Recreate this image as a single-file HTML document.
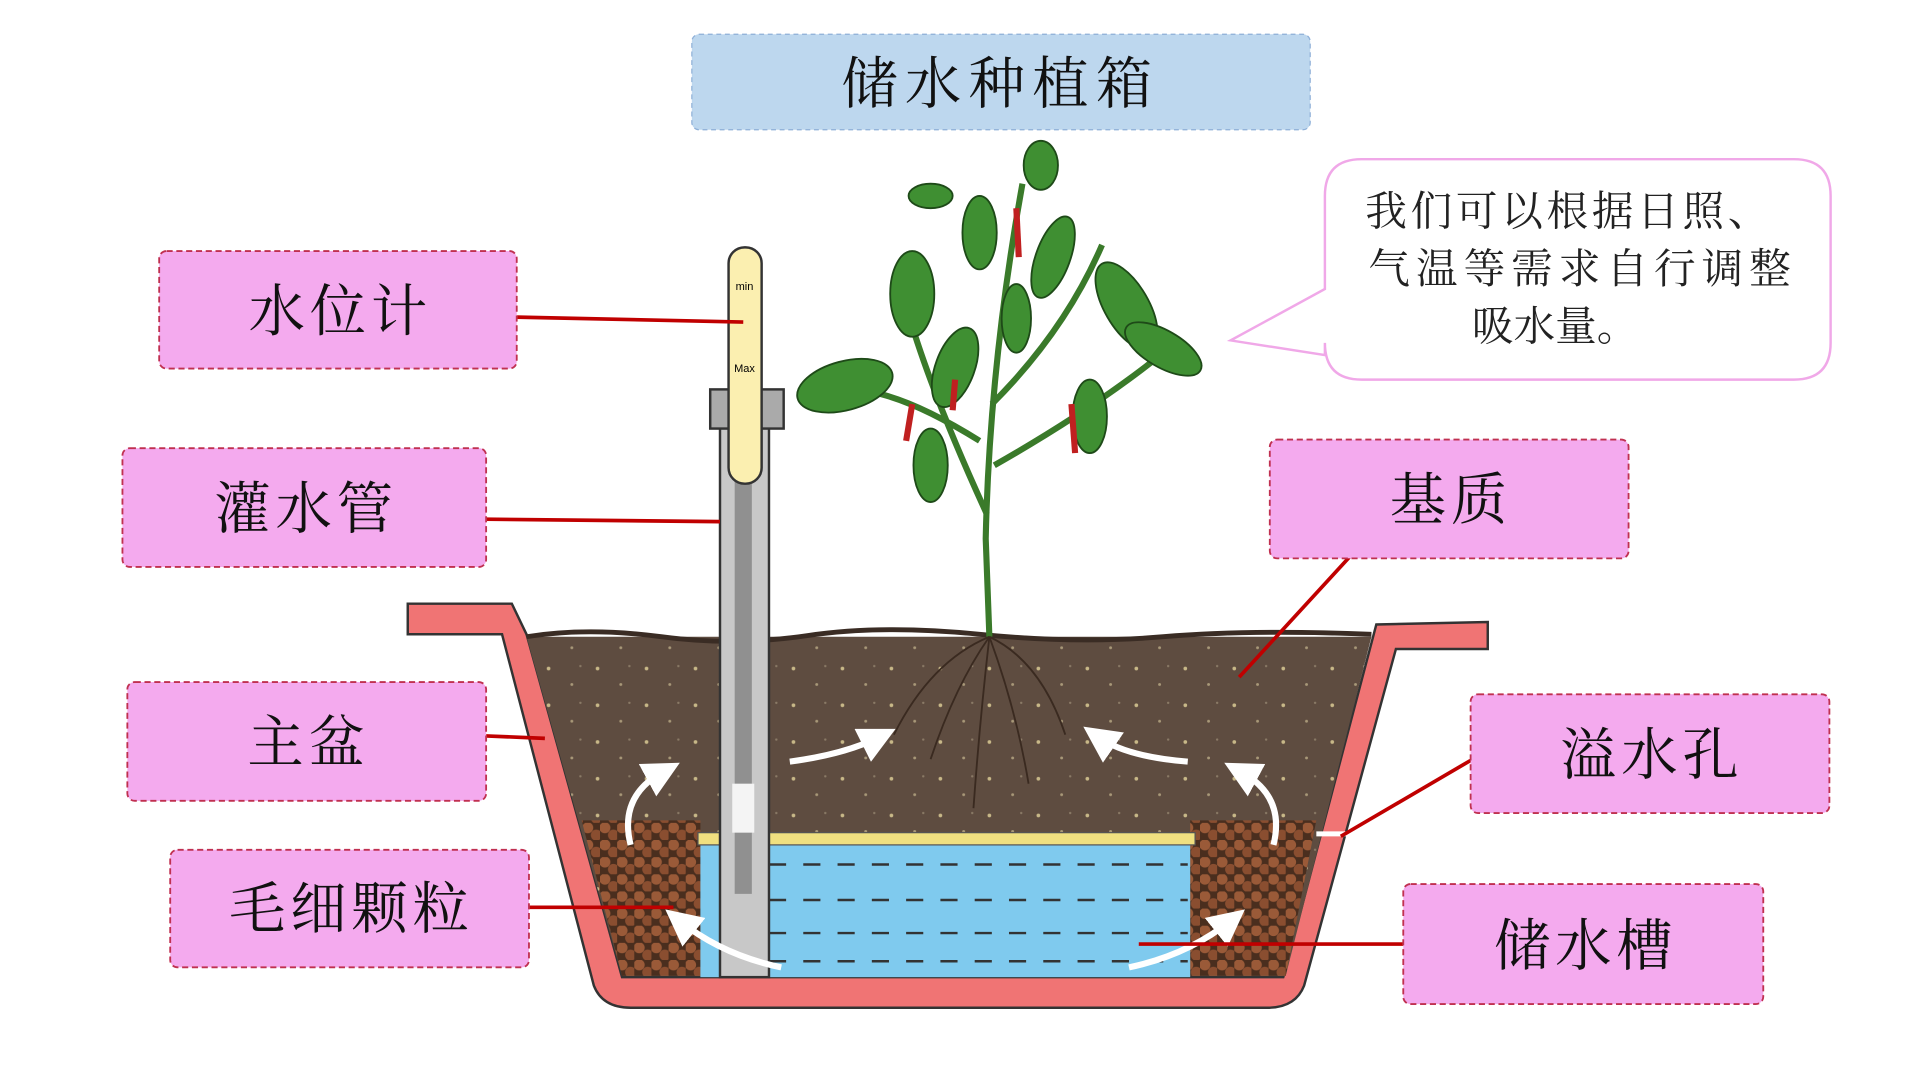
<!DOCTYPE html>
<html><head><meta charset="utf-8"><style>
html,body{margin:0;padding:0;background:#fff;width:1920px;height:1080px;overflow:hidden}
svg{display:block}
text{font-family:"Liberation Sans","Noto Serif CJK SC","Noto Sans CJK SC",serif}
</style></head><body>
<svg width="1920" height="1080" viewBox="0 0 1568 882" preserveAspectRatio="none" xmlns="http://www.w3.org/2000/svg">
<defs>
<pattern id="peb" width="14" height="14" patternUnits="userSpaceOnUse">
<rect width="14" height="14" fill="#4a2e1e"/>
<circle cx="4" cy="4" r="4.5" fill="#9a5a38"/><circle cx="11" cy="10" r="4.5" fill="#8a4e30"/>
</pattern>
<pattern id="dirt" width="40" height="30" patternUnits="userSpaceOnUse">
<rect width="40" height="30" fill="#5e4c40"/>
<circle cx="8" cy="6" r="1.5" fill="#c8b888"/><circle cx="27" cy="19" r="1.2" fill="#a89878"/><circle cx="34" cy="4" r="1" fill="#8a7a66"/>
</pattern>
<marker id="ah" markerWidth="6" markerHeight="6" refX="3" refY="3" orient="auto"><path d="M0,0 L6,3 L0,6 Z" fill="#fff"/></marker>
</defs>
<!-- title -->
<rect x="565" y="28" width="505" height="78" rx="6" fill="#bdd7ee" stroke="#8fb0d8" stroke-dasharray="4 3"/>
<text x="817" y="84" font-size="46" text-anchor="middle" letter-spacing="6" fill="#111">储水种植箱</text>
<!-- bubble -->
<path d="M1112,130 H1465 Q1495,130 1495,160 V280 Q1495,310 1465,310 H1112 Q1082,310 1082,280 V290 L1005,278 L1082,236 V160 Q1082,130 1112,130 Z" fill="#fff" stroke="#f0a8e8" stroke-width="2"/>
<g font-size="34" fill="#222" text-anchor="middle">
<text x="1280" y="184" textLength="330">我们可以根据日照、</text>
<text x="1290" y="231" textLength="345">气温等需求自行调整</text>
<text x="1270" y="278">吸水量。</text>
</g>
<!-- pot -->
<path d="M333,493 L418,493 L430,518 L508,798 L1048,798 L1124,510 L1215,508 L1215,530 L1140,530 L1065,805 Q1058,823 1035,823 L515,823 Q492,823 485,805 L410,518 L333,518 Z" fill="#f07474" stroke="#333" stroke-width="2"/>
<path d="M430,520 L1120,520 L1050,797 L508,797 Z" fill="url(#dirt)"/>
<path d="M430,520 Q480,512 540,520 T660,519 T800,518 T950,520 T1120,518" fill="none" stroke="#3a2c24" stroke-width="4"/>
<path d="M475,670 L572,670 L572,797 L508,797 Z" fill="url(#peb)"/>
<path d="M972,670 L1075,670 L1050,797 L972,797 Z" fill="url(#peb)"/>
<rect x="572" y="690" width="400" height="108" fill="#7fcaee"/>
<g stroke="#333" stroke-width="2" stroke-dasharray="14 14"><line x1="600" y1="706" x2="970" y2="706"/><line x1="600" y1="735" x2="970" y2="735"/><line x1="600" y1="762" x2="970" y2="762"/><line x1="600" y1="785" x2="970" y2="785"/></g>
<rect x="570" y="680" width="406" height="10" fill="#f0e080" stroke="#555"/>
<line x1="1075" y1="681" x2="1100" y2="681" stroke="#fff" stroke-width="4"/>
<!-- pipe -->
<rect x="588" y="330" width="40" height="468" fill="#c8c8c8" stroke="#333" stroke-width="2"/>
<rect x="600" y="330" width="14" height="400" fill="#909090"/>
<rect x="598" y="640" width="18" height="40" fill="#f4f4f4"/>
<rect x="580" y="318" width="60" height="32" fill="#aaa" stroke="#333" stroke-width="2"/>
<rect x="595" y="202" width="27" height="193" rx="13" fill="#fbefb0" stroke="#333" stroke-width="2"/>
<text x="608" y="237" font-size="9" text-anchor="middle">min</text>
<text x="608" y="304" font-size="9" text-anchor="middle">Max</text>
<!-- plant -->
<g stroke="#3a7a2a" stroke-width="5" fill="none"><path d="M808,520 L805,440 Q808,300 835,150"/><path d="M806,420 Q760,320 740,250"/><path d="M810,330 Q870,270 900,200"/><path d="M812,380 Q900,330 960,280"/><path d="M800,360 Q720,310 680,320"/></g>
<g fill="#3f8f32" stroke="#1e4a18" stroke-width="1.5">
<ellipse cx="690" cy="315" rx="40" ry="20" transform="rotate(-15 690 315)"/>
<ellipse cx="745" cy="240" rx="18" ry="35"/><ellipse cx="780" cy="300" rx="16" ry="34" transform="rotate(20 780 300)"/>
<ellipse cx="760" cy="380" rx="14" ry="30"/><ellipse cx="920" cy="250" rx="18" ry="40" transform="rotate(-30 920 250)"/>
<ellipse cx="950" cy="285" rx="35" ry="15" transform="rotate(30 950 285)"/><ellipse cx="860" cy="210" rx="14" ry="35" transform="rotate(20 860 210)"/>
<ellipse cx="800" cy="190" rx="14" ry="30"/><ellipse cx="850" cy="135" rx="14" ry="20"/><ellipse cx="760" cy="160" rx="18" ry="10"/>
<ellipse cx="890" cy="340" rx="14" ry="30"/><ellipse cx="830" cy="260" rx="12" ry="28"/>
</g>
<g stroke="#c02020" stroke-width="5"><line x1="745" y1="330" x2="740" y2="360"/><line x1="780" y1="310" x2="778" y2="335"/><line x1="875" y1="330" x2="878" y2="370"/><line x1="830" y1="170" x2="832" y2="210"/></g>
<g stroke="#3a2a20" stroke-width="1.5" fill="none"><path d="M808,520 Q780,560 760,620"/><path d="M808,520 Q800,590 795,660"/><path d="M808,520 Q830,580 840,640"/><path d="M808,520 Q760,540 730,600"/><path d="M808,520 Q850,540 870,600"/></g>
<!-- arrows -->
<g stroke="#fff" stroke-width="5" fill="none" marker-end="url(#ah)"><path d="M645,622 Q690,616 718,602"/><path d="M970,622 Q920,618 897,602"/><path d="M515,690 Q505,650 542,630"/><path d="M1040,690 Q1050,650 1013,630"/><path d="M638,790 Q590,780 555,752"/><path d="M922,790 Q970,780 1005,752"/></g>
<!-- leader lines -->
<g stroke="#c00000" stroke-width="3"><line x1="422" y1="259" x2="607" y2="263"/><line x1="397" y1="424" x2="588" y2="426"/><line x1="397" y1="601" x2="445" y2="603"/><line x1="425" y1="741" x2="550" y2="741"/><line x1="1102" y1="455" x2="1012" y2="553"/><line x1="1201" y1="621" x2="1095" y2="683"/><line x1="1146" y1="771" x2="930" y2="771"/></g>
<!-- labels -->
<g fill="#f4aaee" stroke="#c03050" stroke-width="1.5" stroke-dasharray="5 3">
<rect x="130" y="205" width="292" height="96" rx="6"/><rect x="100" y="366" width="297" height="97" rx="6"/>
<rect x="104" y="557" width="293" height="97" rx="6"/><rect x="139" y="694" width="293" height="96" rx="6"/>
<rect x="1037" y="359" width="293" height="97" rx="6"/><rect x="1201" y="567" width="293" height="97" rx="6"/>
<rect x="1146" y="722" width="294" height="98" rx="6"/>
</g>
<g font-size="46" fill="#111" text-anchor="middle" letter-spacing="4">
<text x="278" y="270">水位计</text><text x="250" y="431">灌水管</text><text x="252" y="622">主盆</text>
<text x="287" y="758">毛细颗粒</text><text x="1185" y="424">基质</text><text x="1349" y="632">溢水孔</text>
<text x="1295" y="788">储水槽</text>
</g>
</svg>
</body></html>
